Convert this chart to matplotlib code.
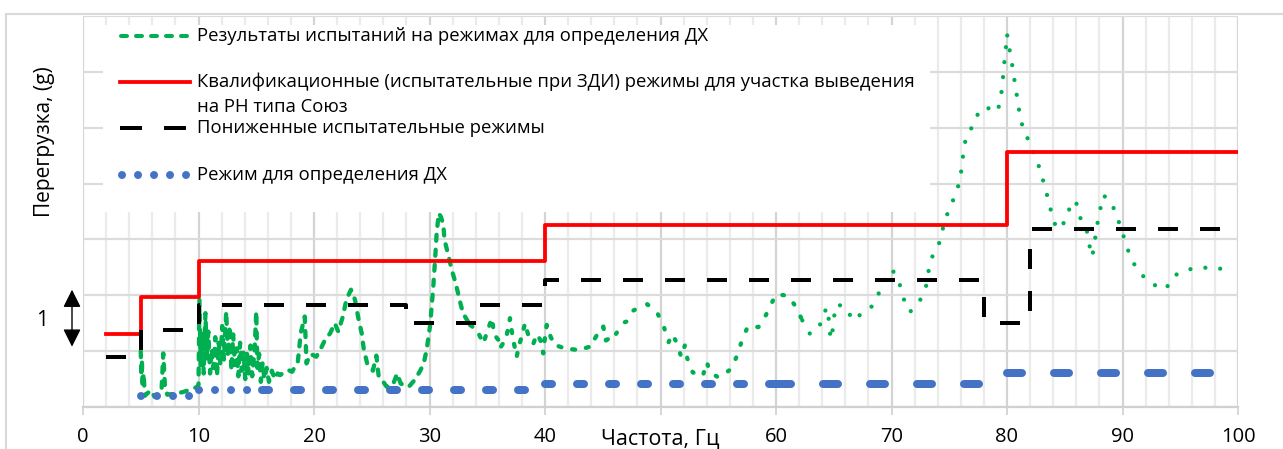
import matplotlib
matplotlib.use("Agg")
import matplotlib.pyplot as plt
import matplotlib.transforms as mtransforms
from matplotlib.patches import Rectangle
import numpy as np

plt.rcParams['font.family'] = ['Open Sans', 'DejaVu Sans']

# --- данные (частота, Гц / перегрузка, g) ---
red_edges = [2, 5, 10, 40, 80, 100]
red_vals = [1.30, 1.97, 2.61, 3.26, 4.56]

black_edges = [2, 5, 10, 28, 34, 40, 78, 82, 100]
black_vals = [0.90, 1.37, 1.83, 1.50, 1.83, 2.28, 1.51, 3.18]

blue_edges = [5, 10, 40, 80, 100]
blue_vals = [0.20, 0.30, 0.41, 0.60]

green_x = [5.0, 5.05, 5.1, 5.15, 5.25, 5.35, 5.6, 5.9, 6.2, 6.5, 6.8, 6.95, 7.1, 7.3, 8.0, 8.7, 9.4, 9.9,
           10.0, 10.08, 10.2, 10.32, 10.45, 10.6, 10.72, 10.85, 11.0, 11.15, 11.3, 11.45, 11.6, 11.75, 11.9,
           12.05, 12.2, 12.4, 12.55, 12.7, 12.85, 13.0, 13.15, 13.3, 13.45, 13.6, 13.75, 13.9, 14.05, 14.2,
           14.35, 14.5, 14.65, 14.85, 15.0, 15.1, 15.25, 15.4, 15.55, 15.7, 15.9, 16.1, 16.35, 16.6, 16.85,
           17.06, 17.4, 17.8, 18.1, 18.6, 18.85, 19.2, 19.35, 19.7, 20.2, 20.6, 20.95, 21.4, 21.8, 22.1,
           22.5, 22.8, 23.2, 23.55, 23.84, 24.13, 24.3, 24.6, 25.1, 25.4, 25.6, 25.9, 26.3, 26.8, 27.2,
           27.5, 28.2, 28.7, 29.2, 29.5, 29.75, 30.04, 30.19, 30.33, 30.48, 30.62, 30.8, 31.0, 31.2, 31.3,
           31.63, 31.92, 32.3, 32.6, 32.9, 33.5, 34.1, 34.66, 35.0, 35.4, 35.6, 35.96, 36.1, 36.4, 36.7,
           36.97, 37.2, 37.55, 37.75, 37.98, 38.27, 38.6, 39.0, 39.3, 39.6, 39.85, 40.0, 40.15, 40.5,
           40.87, 41.7, 42.9, 43.9, 44.5, 45.05, 45.28, 46.15, 46.78, 47.07, 47.59, 48.29, 48.86, 49.76,
           50.33, 50.7, 51.02, 51.45, 51.8, 52.12, 52.32, 52.79, 53.65, 54.0, 54.29, 55.09, 56.16, 56.68,
           57.08, 57.6, 58.47, 58.85, 59.42, 60.0, 61.06, 61.7, 62.28, 62.94, 63.72, 64.1, 64.48, 64.59,
           64.74, 64.87, 65.02, 65.25, 66.12, 66.61, 66.93, 67.36, 68.14, 68.8, 69.35, 70.07, 70.68, 71.02,
           71.6, 72.47, 72.99, 73.19, 73.53, 74.14, 74.48, 74.87, 75.41, 75.87, 76.08, 76.22, 76.45, 77.14,
           77.66, 78.7, 79.19, 79.48, 79.63, 79.74, 79.89, 80.0, 80.2, 80.43, 80.63, 80.84, 81.04, 81.32,
           81.84, 82.36, 82.83, 83.2, 83.55, 83.87, 84.3, 85.05, 85.45, 85.95, 86.26, 86.9, 87.13, 87.38,
           87.59, 87.79, 88.05, 88.34, 89.0, 89.5, 89.96, 90.33, 90.82, 91.54, 92.55, 93.74, 94.46, 95.56,
           96.77, 98.03, 99.28]
green_y = [1.00, 0.55, 0.85, 0.35, 0.60, 0.20, 0.25, 0.30, 0.18, 0.20, 0.30, 0.96, 0.35, 0.22, 0.24, 0.27, 0.32, 0.36,
           0.40, 1.92, 0.75, 1.35, 0.60, 1.68, 0.85, 1.35, 0.60, 1.05, 0.70, 1.25, 0.55, 1.15, 0.75,
           1.45, 0.85, 1.71, 0.90, 1.45, 0.65, 1.30, 0.75, 1.05, 0.55, 1.15, 0.65, 1.00, 0.50, 0.95,
           0.60, 1.10, 0.55, 1.00, 1.71, 0.70, 0.95, 0.45, 0.80, 0.50, 0.70, 0.45, 0.65, 0.50, 0.60,
           0.57, 0.62, 0.66, 0.63, 0.81, 1.32, 1.62, 0.78, 0.95, 0.90, 1.05, 1.20, 1.32, 1.50, 1.35,
           1.62, 1.92, 2.10, 1.92, 1.59, 1.32, 1.05, 0.78, 0.65, 0.92, 0.55, 0.48, 0.36, 0.38, 0.60,
           0.42, 0.36, 0.48, 0.65, 0.78, 1.02, 1.44, 1.80, 2.16, 2.63, 3.11, 3.47, 3.40, 3.26, 2.99,
           2.72, 2.46, 2.19, 1.92, 1.68, 1.47, 1.38, 1.14, 1.35, 1.59, 1.30, 1.20, 1.05, 1.15, 1.30,
           1.59, 1.25, 0.90, 1.10, 1.26, 1.50, 1.25, 1.14, 1.30, 1.20, 0.96, 1.25, 1.47, 1.25,
           1.11, 1.05, 1.02, 1.08, 1.29, 1.44, 1.19, 1.31, 1.51, 1.53, 1.72, 1.80, 1.84, 1.67,
           1.41, 1.16, 1.31, 1.13, 0.89, 1.11, 0.87, 0.62, 0.54, 0.81, 0.62, 0.52, 0.69, 0.95,
           1.21, 1.46, 1.43, 1.53, 1.77, 2.02, 1.99, 1.80, 1.55, 1.31, 1.41, 1.68, 1.78, 1.49,
           1.21, 1.32, 1.61, 1.84, 1.78, 1.55, 1.60, 1.66, 1.75, 1.99, 2.25, 2.46, 2.22, 1.95,
           1.70, 1.91, 2.16, 2.42, 2.69, 2.94, 3.22, 3.48, 3.74, 4.01, 4.28, 4.56, 4.83, 5.07,
           5.34, 5.35, 5.29, 5.56, 5.84, 6.12, 6.40, 6.68, 6.42, 6.15, 5.87, 5.59, 5.32, 5.04,
           4.78, 4.53, 4.27, 4.00, 3.73, 3.46, 3.18, 3.32, 3.58, 3.70, 3.42, 3.17, 2.90, 2.69,
           2.96, 3.24, 3.52, 3.79, 3.68, 3.42, 3.15, 2.89, 2.62, 2.39, 2.20, 2.11, 2.35, 2.46,
           2.49, 2.50, 2.43]

x_ticks = list(range(0, 101, 10))
x_ticklabels = [str(t) if t != 50 else '' for t in x_ticks]

legend_labels = [
    'Результаты испытаний на режимах для определения ДХ',
    'Квалификационные (испытательные при ЗДИ) режимы для участка выведения\nна РН типа Союз',
    'Пониженные испытательные режимы',
    'Режим для определения ДХ',
]

GREEN = '#00b050'
RED = '#ff0000'
BLUE = '#4472c4'
DPI = 100
W, H = 1283, 449


def pt(px):
    return px * 72 / DPI


def dash(on_px, off_px, lw_px):
    return (0, (max(on_px, 0.01) / lw_px, off_px / lw_px))


fig = plt.figure(figsize=(W / DPI, H / DPI), dpi=DPI)
ax = fig.add_axes([83 / W, 1 - 407 / H, 1155 / W, 391 / H])
ax.set_xlim(0, 100)
ax.set_ylim(0, 7)
ax.set_axisbelow(True)

# сетка
ax.set_xticks(x_ticks)
ax.set_xticklabels(x_ticklabels, fontsize=14.5)
ax.set_xticks(np.arange(0, 101, 2), minor=True)
ax.set_yticks(range(0, 8))
ax.set_yticklabels([])
ax.grid(which='major', axis='x', color='#d4d4d4', lw=1.6)
ax.grid(which='minor', axis='x', color='#ebebeb', lw=1.6)
ax.grid(which='major', axis='y', color='#dcdcdc', lw=1.6)
ax.tick_params(axis='x', which='major', length=pt(8), width=1.2, color='#d0d0d0', pad=9)
ax.tick_params(axis='x', which='minor', length=0)
ax.tick_params(axis='y', length=0)
for s in ['top', 'right', 'left']:
    ax.spines[s].set_visible(False)
ax.spines['bottom'].set_color('#d0d0d0')
ax.spines['bottom'].set_linewidth(1.6)

# зелёная кривая: шаблон штриха меняется по частоте
gx = np.array(green_x)
gy = np.array(green_y)
green_bands = [(5, 33, 6, 9), (33, 46, 3, 11), (46, 62, 1.5, 13.5), (62, 100, 0, 15)]
g_lw = 4.3
for x0, x1, on, off in green_bands:
    i0 = np.searchsorted(gx, x0, 'left')
    i1 = np.searchsorted(gx, x1, 'left')
    ax.plot(gx[i0:i1 + 1], gy[i0:i1 + 1], color=GREEN, lw=pt(g_lw),
            linestyle=dash(on, off, g_lw), dash_capstyle='round', zorder=3)

# красная и чёрная ступенчатые линии
ax.step(red_edges, red_vals + [red_vals[-1]], where='post', color=RED, lw=pt(3.8), zorder=4)
ax.step(black_edges, black_vals + [black_vals[-1]], where='post', color='black', lw=pt(4),
        linestyle=dash(20, 22, 4), dash_capstyle='butt', zorder=5)

# синяя линия (круглые точки)
b_lw = 8
blue_bands = [(5, 15.5, 0, 16), (15.5, 60, 7, 25), (60, 100, 15, 32)]
for x0, x1, on, off in blue_bands:
    for a, b, v in zip(blue_edges[:-1], blue_edges[1:], blue_vals):
        lo, hi = max(a, x0), min(b, x1)
        if hi > lo:
            ax.plot([lo, hi], [v, v], color=BLUE, lw=pt(b_lw), linestyle=dash(on, off, b_lw),
                    dash_capstyle='round', zorder=6)

# легенда (белая подложка поверх сетки)
def ax_x(px):
    return (px - 83) / 1155


def ax_y(py):
    return (407 - py) / 391


ax.add_patch(Rectangle((ax_x(103), ax_y(212)), ax_x(930) - ax_x(103), ax_y(25) - ax_y(212),
                       transform=ax.transAxes, facecolor='white', edgecolor='none', zorder=1))
leg = ax.transAxes
ax.plot([ax_x(121), ax_x(190)], [ax_y(36)] * 2, transform=leg, color=GREEN, lw=pt(4),
        linestyle=dash(6, 9, 4), dash_capstyle='round', zorder=7, clip_on=False)
ax.plot([ax_x(120), ax_x(190)], [ax_y(82)] * 2, transform=leg, color=RED, lw=pt(3.8), zorder=7)
ax.plot([ax_x(120), ax_x(190)], [ax_y(128)] * 2, transform=leg, color='black', lw=pt(4),
        linestyle=dash(22, 22, 4), dash_capstyle='butt', zorder=7)
ax.plot([ax_x(122), ax_x(190)], [ax_y(175)] * 2, transform=leg, color=BLUE, lw=pt(8),
        linestyle=dash(0, 16, 8), dash_capstyle='round', zorder=7)
for lab, py in zip(legend_labels, [36, 82, 128, 175]):
    lines = lab.split('\n')
    for k, ln in enumerate(lines):
        ax.text(ax_x(197), ax_y(py + 25 * k), ln, transform=leg, fontsize=13.3,
                ha='left', va='center', zorder=8)

# подписи осей
trans = mtransforms.blended_transform_factory(ax.transData, ax.transAxes)
ax.text(50, ax_y(444.5), 'Частота, Гц', transform=trans, fontsize=15.5, ha='center', va='baseline')
fig.text(45 / W, 1 - 142 / H, 'Перегрузка, (g)', rotation=90, fontsize=15, ha='center', va='center')
fig.text(42 / W, 1 - 320 / H, '1', fontsize=15, ha='center', va='center')

# стрелка масштаба "1"
arr_tr = mtransforms.blended_transform_factory(ax.transAxes, ax.transData)
ax.annotate('', xy=(ax_x(72), 2.10), xytext=(ax_x(72), 1.08), xycoords=arr_tr, textcoords=arr_tr,
            arrowprops=dict(arrowstyle='<|-|>', color='black', lw=1.0, mutation_scale=27,
                            shrinkA=0, shrinkB=0), annotation_clip=False)

# рамка области диаграммы
fig.patches.append(Rectangle((6 / W, -0.1), 1.2, 1 - 14 / H + 0.1, transform=fig.transFigure,
                             fill=False, edgecolor='#d9d9d9', lw=1.5))

fig.savefig('out.png', dpi=DPI)
